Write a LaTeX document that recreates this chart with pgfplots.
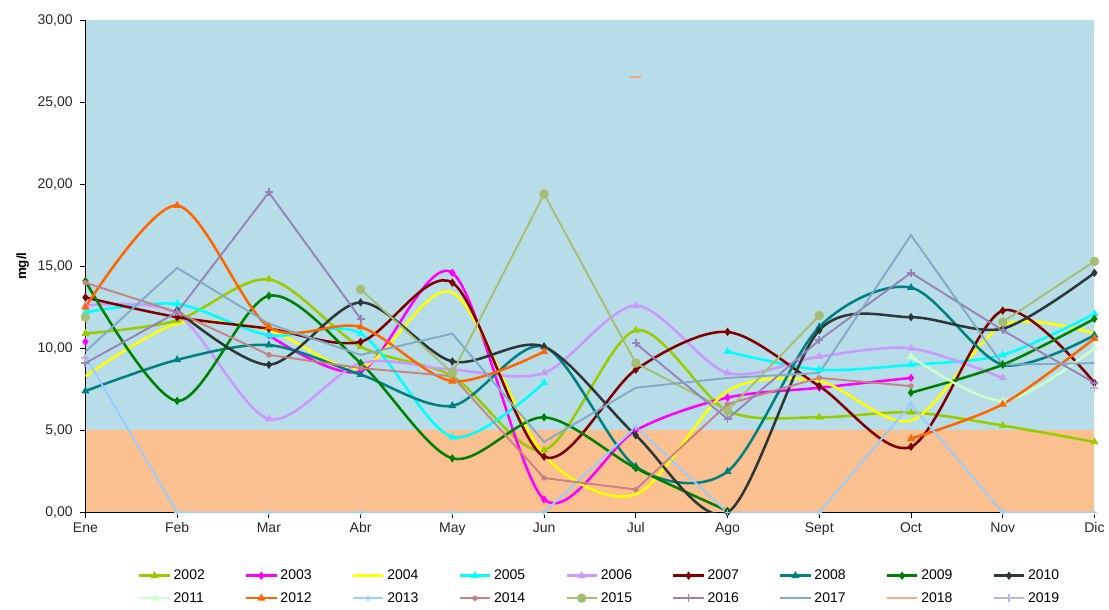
\documentclass[border=0pt]{standalone}
\usepackage{fontspec}
\setmainfont{Liberation Sans}
\usepackage{pgfplots}
\pgfplotsset{compat=1.18}

\definecolor{bgblue}{RGB}{183,221,232}
\definecolor{bgpeach}{RGB}{250,192,144}
\definecolor{c2002}{RGB}{153,204,0}
\definecolor{c2003}{RGB}{255,0,255}
\definecolor{c2004}{RGB}{255,255,0}
\definecolor{c2005}{RGB}{0,255,255}
\definecolor{c2006}{RGB}{204,153,255}
\definecolor{c2007}{RGB}{128,0,0}
\definecolor{c2008}{RGB}{0,128,128}
\definecolor{c2009}{RGB}{0,128,0}
\definecolor{c2010}{RGB}{45,55,55}
\definecolor{c2011}{RGB}{204,255,204}
\definecolor{c2012}{RGB}{255,102,0}
\definecolor{c2013}{RGB}{153,204,255}
\definecolor{c2014}{RGB}{200,130,130}
\definecolor{c2015}{RGB}{165,190,115}
\definecolor{c2016}{RGB}{150,130,180}
\definecolor{c2017}{RGB}{130,170,195}
\definecolor{c2018}{RGB}{245,170,120}
\definecolor{c2019}{RGB}{180,185,220}

\pgfplotsset{
  sm/.style={smooth, tension=0.5, line width=1.9pt, mark size=1.6pt},
  st/.style={sharp plot, line width=1.4pt, mark size=2pt},
}

\begin{document}
\begin{tikzpicture}
\begin{axis}[
  name=ax,
  set layers=standard,
  scale only axis, width=756pt, height=369pt,
  xmin=0, xmax=11, ymin=0, ymax=30,
  axis lines=left, axis line style={-, black, line width=0.8pt},
  xtick={0,...,11},
  xticklabels={Ene,Feb,Mar,Abr,May,Jun,Jul,Ago,Sept,Oct,Nov,Dic},
  ytick={0,5,...,30},
  tick align=outside, major tick length=4pt,
  tick style={black, line width=0.6pt},
  tick label style={font=\fontsize{10.5}{12}\selectfont, text=black!85},
  yticklabel style={xshift=-2pt, /pgf/number format/fixed, /pgf/number format/fixed zerofill,
    /pgf/number format/precision=2, /pgf/number format/use comma,
    /pgf/number format/assume math mode=true},
  ylabel={\textbf{mg/l}},
  every axis y label/.style={at={(axis description cs:0,0.5)}, xshift=-47pt,
    rotate=90, anchor=center, font=\fontsize{10}{12}\selectfont},
  unbounded coords=jump,
  legend columns=9,
  legend cell align=left,
  legend style={draw=none, fill=none, at={(0.51,-0.105)}, anchor=north,
    font=\fontsize{10.5}{12}\selectfont, row sep=4pt,
    /tikz/every even column/.append style={column sep=28pt}},
  legend image code/.code={\draw[mark repeat=2, mark phase=2, #1]
    plot coordinates {(0cm,0cm) (0.4cm,0cm) (0.8cm,0cm)};},
]
\begin{pgfonlayer}{axis background}
\fill[bgblue] (axis cs:0,5) rectangle (axis cs:11,30);
\fill[bgpeach] (axis cs:0,0) rectangle (axis cs:11,5);
\end{pgfonlayer}

% 2002
\addplot[sm, c2002, mark=triangle*] coordinates {
 (0,10.9) (1,11.7) (2,14.2) (3,10.1) (4,8.3) (5,3.8) (6,11.1) (7,6.2) (8,5.8) (9,6.1) (10,5.3) (11,4.3)};
\addlegendentry{2002}
% 2003
\addplot[sm, c2003, mark=diamond*] coordinates {
 (0,10.4) (1,nan) (2,10.8) (3,8.6) (4,14.6) (5,0.8) (6,5.0) (7,7.0) (8,7.6) (9,8.2) (10,nan) (11,nan)};
\addlegendentry{2003}
% 2004
\addplot[sm, c2004, mark=none] coordinates {
 (0,8.3) (1,11.5) (2,11.1) (3,8.8) (4,13.4) (5,3.5) (6,1.1) (7,7.4) (8,8.0) (9,5.6) (10,11.4) (11,10.9)};
\addlegendentry{2004}
% 2005
\addplot[sm, c2005, mark=triangle*] coordinates {
 (0,12.2) (1,12.7) (2,10.8) (3,10.9) (4,4.6) (5,7.9) (6,nan) (7,9.8) (8,8.7) (9,9.0) (10,9.6) (11,12.1)};
\addlegendentry{2005}
% 2006
\addplot[sm, c2006, mark=triangle*] coordinates {
 (0,12.6) (1,12.1) (2,5.7) (3,9.1) (4,8.7) (5,8.5) (6,12.6) (7,8.5) (8,9.5) (9,10.0) (10,8.2) (11,nan)};
\addlegendentry{2006}
% 2007
\addplot[sm, c2007, mark=diamond*] coordinates {
 (0,13.1) (1,11.9) (2,11.2) (3,10.4) (4,14.0) (5,3.4) (6,8.7) (7,11.0) (8,7.7) (9,4.0) (10,12.3) (11,7.9)};
\addlegendentry{2007}
% 2008
\addplot[sm, c2008, mark=triangle*] coordinates {
 (0,7.4) (1,9.3) (2,10.2) (3,8.4) (4,6.5) (5,10.1) (6,2.8) (7,2.5) (8,11.3) (9,13.7) (10,9.0) (11,10.8)};
\addlegendentry{2008}
% 2009
\addplot[sm, c2009, mark=diamond*] coordinates {
 (0,14.1) (1,6.8) (2,13.2) (3,9.1) (4,3.3) (5,5.8) (6,2.7) (7,0.1) (8,nan) (9,7.3) (10,9.0) (11,11.8)};
\addlegendentry{2009}
% 2010
\addplot[sm, c2010, mark=diamond*] coordinates {
 (0,nan) (1,12.3) (2,9.0) (3,12.8) (4,9.2) (5,10.1) (6,4.7) (7,0.0) (8,11.1) (9,11.9) (10,11.2) (11,14.6)};
\addlegendentry{2010}
% 2011
\addplot[sm, c2011, mark=triangle*] coordinates {
 (9,9.5) (10,6.8) (11,10.0)};
\addlegendentry{2011}
% 2012
\addplot[sm, c2012, mark=triangle*] coordinates {
 (0,12.5) (1,18.7) (2,11.3) (3,11.3) (4,8.0) (5,9.8) (6,nan) (7,nan) (8,nan) (9,4.5) (10,6.6) (11,10.6)};
\addlegendentry{2012}
% 2013
\addplot[st, c2013, mark=+] coordinates {
 (0,9.5) (1,0) (2,0) (3,0) (4,0) (5,0) (6,5.2) (7,0) (8,0) (9,6.6) (10,0) (11,0)};
\addlegendentry{2013}
% 2014
\addplot[st, c2014, mark=asterisk] coordinates {
 (0,14.0) (1,12.2) (2,9.6) (3,8.8) (4,8.3) (5,2.1) (6,1.4) (7,6.6) (8,8.2) (9,7.7)};
\addlegendentry{2014}
% 2015
\addplot[st, c2015, mark=*, mark size=2.8pt] coordinates {
 (0,11.9) (1,nan) (2,nan) (3,13.6) (4,8.5) (5,19.4) (6,9.1) (7,6.2) (8,12.0) (9,nan) (10,11.6) (11,15.3)};
\addlegendentry{2015}
% 2016
\addplot[st, c2016, mark=+, mark size=3pt] coordinates {
 (0,9.1) (1,12.2) (2,19.5) (3,11.8) (4,nan) (5,nan) (6,10.3) (7,5.7) (8,10.5) (9,14.6) (10,11.1) (11,7.9)};
\addlegendentry{2016}
% 2017
\addplot[st, c2017, mark=none] coordinates {
 (0,9.8) (1,14.9) (2,11.5) (3,9.6) (4,10.9) (5,4.3) (6,7.6) (7,8.2) (8,8.5) (9,16.9) (10,9.0) (11,9.1)};
\addlegendentry{2017}
% 2018
\addplot[only marks, c2018, mark=-, mark size=4pt, line width=1.5pt,
  legend image code/.code={\draw[c2018, line width=1.8pt] (0cm,0cm) -- (0.8cm,0cm);}]
  coordinates {(6,26.5)};
\addlegendentry{2018}
% 2019
\addplot[st, c2019, mark=+, mark size=3pt] coordinates {
 (0,9.4) (5,nan) (11,7.6)};
\addlegendentry{2019}
\end{axis}
\path (ax.north west) ++(-64pt,15pt);
\end{tikzpicture}
\end{document}
